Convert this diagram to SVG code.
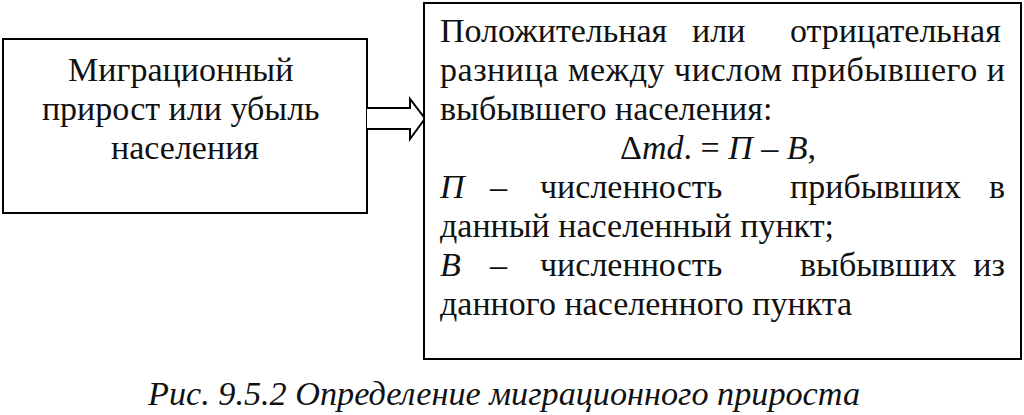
<svg xmlns="http://www.w3.org/2000/svg" width="1024" height="415" viewBox="0 0 1024 415">
<style>
text, tspan { font-family: 'Liberation Serif', 'Times New Roman', serif !important; }
.t { font-size: 34px; fill: #111; }
.i { font-style: italic; }
.box { fill: #fff; stroke: #000; stroke-width: 2; }
</style>
<rect x="0" y="0" width="1024" height="415" fill="#fff"/>
<g id="node-left">
<rect class="box" x="3" y="39" width="364" height="174"/>
<text class="t" text-anchor="middle" style="font-family:'Liberation Serif',serif !important">
<tspan x="185" y="81">Миграционный</tspan>
<tspan x="185" y="120">прирост или убыль</tspan>
<tspan x="185" y="159">населения</tspan>
</text>
</g>
<g id="connectors">
<path d="M367,108 H410 V99 L425,118.5 L410,139 V129 H367" fill="#fff" stroke="#000" stroke-width="2"/>
</g>
<g id="node-right">
<rect class="box" x="424" y="3" width="597" height="356"/>
<text class="t" style="font-family:'Liberation Serif',serif !important"><tspan x="440" y="42">Положительная</tspan><tspan x="692">или</tspan><tspan x="790">отрицательная</tspan></text>
<text class="t" style="font-family:'Liberation Serif',serif !important" x="440" y="81" textLength="565" lengthAdjust="spacing">разница между числом прибывшего и</text>
<text class="t" style="font-family:'Liberation Serif',serif !important" x="440" y="120">выбывшего населения:</text>
<text class="t" style="font-family:'Liberation Serif',serif !important" x="620" y="159">Δ<tspan class="i">md</tspan>. = <tspan class="i">П</tspan> – <tspan class="i">В</tspan>,</text>
<text class="t" style="font-family:'Liberation Serif',serif !important"><tspan class="i" x="440" y="198">П</tspan><tspan x="490">–</tspan><tspan x="540">численность</tspan><tspan x="790">прибывших</tspan></text>
<text class="t" style="font-family:'Liberation Serif',serif !important" x="1005" y="198" text-anchor="end">в</text>
<text class="t" style="font-family:'Liberation Serif',serif !important" x="440" y="237">данный населенный пункт;</text>
<text class="t" style="font-family:'Liberation Serif',serif !important"><tspan class="i" x="440" y="276">В</tspan><tspan x="490">–</tspan><tspan x="540">численность</tspan><tspan x="800">выбывших</tspan></text>
<text class="t" style="font-family:'Liberation Serif',serif !important" x="1005" y="276" text-anchor="end">из</text>
<text class="t" style="font-family:'Liberation Serif',serif !important" x="440" y="315">данного населенного пункта</text>
</g>
<text class="t i" style="font-family:'Liberation Serif',serif !important" x="148" y="405" textLength="712" lengthAdjust="spacingAndGlyphs">Рис. 9.5.2 Определение миграционного прироста</text>
</svg>
